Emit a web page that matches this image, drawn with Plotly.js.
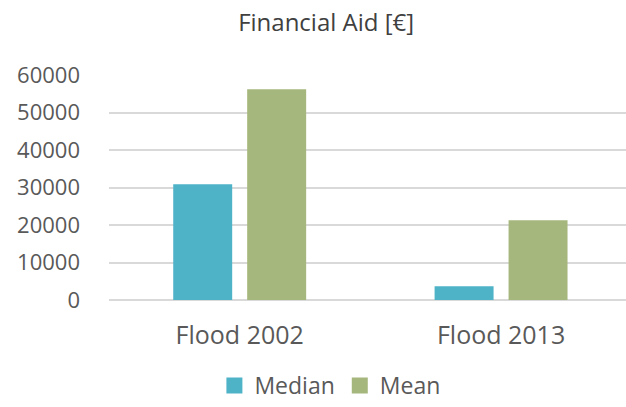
<!DOCTYPE html>
<html>
<head>
<meta charset="utf-8">
<script src="https://cdn.plot.ly/plotly-3.0.1.min.js"></script>
<style>html,body{margin:0;padding:0;background:#fff;}#chart{width:626px;height:407px;}</style>
</head>
<body>
<div id="chart"></div>
<script>
const categories = ["Flood 2002", "Flood 2013"];
const seriesNames = ["Median", "Mean"];
const medianValues = [30900, 3700];
const meanValues = [56200, 21300];
const yTickValues = [0, 10000, 20000, 30000, 40000, 50000, 60000];

const colors = ["#4FB3C8", "#A6B77D"];
const font = "'Open Sans', 'Noto Sans', sans-serif";

const seriesValues = [medianValues, meanValues];
const traces = [];
seriesValues.forEach((vals, i) => {
  traces.push({
    type: "bar",
    x: categories,
    y: vals,
    name: seriesNames[i],
    marker: {color: colors[i]},
    showlegend: false,
    hoverinfo: "x+y"
  });
});
seriesValues.forEach((vals, i) => {
  traces.push({
    type: "scatter",
    mode: "markers",
    x: [null],
    y: [null],
    name: seriesNames[i],
    marker: {color: colors[i], symbol: "square", size: 16},
    showlegend: true
  });
});

const layout = {
  width: 626,
  height: 407,
  margin: {l: 109, r: 0, t: 75, b: 107},
  paper_bgcolor: "#fff",
  plot_bgcolor: "#fff",
  barmode: "group",
  bargap: 0.434,
  bargroupgap: 0.2027,
  title: {
    text: "Financial Aid [€]",
    font: {family: font, size: 24, color: "#404040"},
    x: 0.521, xref: "container", xanchor: "center",
    y: 0.945, yref: "container", yanchor: "middle"
  },
  xaxis: {
    type: "category",
    range: [-0.5, 1.478],
    showgrid: false,
    zeroline: false,
    showline: false,
    ticks: "",
    tickfont: {family: font, size: 25, color: "#595959"},
    ticklabelstandoff: 18
  },
  yaxis: {
    range: [0, 60000],
    tickvals: yTickValues,
    ticktext: yTickValues.map(String),
    showgrid: true,
    gridcolor: "#D9D9D9",
    gridwidth: 2,
    zeroline: true,
    zerolinecolor: "#D9D9D9",
    zerolinewidth: 2,
    showline: false,
    ticks: "",
    tickfont: {family: font, size: 22, color: "#595959"},
    ticklabelstandoff: 28
  },
  showlegend: true,
  legend: {
    orientation: "h",
    x: 0.527, xref: "container", xanchor: "center",
    y: 0, yref: "container", yanchor: "bottom",
    font: {family: font, size: 23, color: "#595959"},
    itemclick: false
  }
};

Plotly.newPlot("chart", traces, layout, {staticPlot: true, displayModeBar: false});
</script>
</body>
</html>
